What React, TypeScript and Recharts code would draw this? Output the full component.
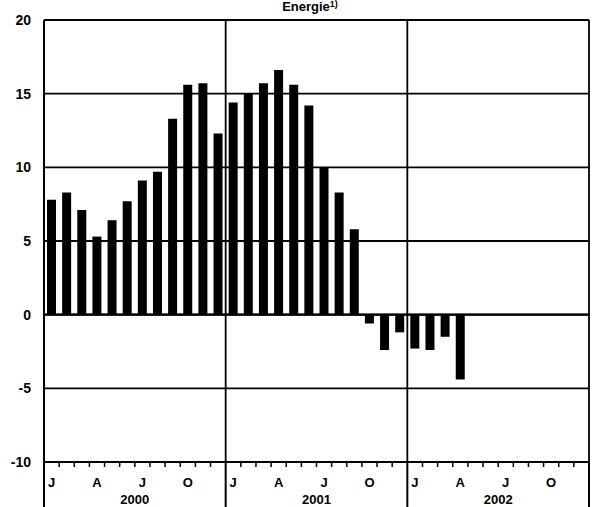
import { BarChart, Bar, XAxis, YAxis, CartesianGrid, ReferenceLine } from 'recharts';

const W = 598;
const H = 507;
const MARGIN = { top: 20, right: 9, bottom: 0, left: 0 };
const Y_W = 44;
const X_H = 45;

const years = ['2000', '2001', '2002'];
const monthLetters = ['J', '', '', 'A', '', '', 'J', '', '', 'O', '', ''];

// year-on-year change, Jan 2000 .. Apr 2002
const values2000 = [7.8, 8.3, 7.1, 5.3, 6.4, 7.7, 9.1, 9.7, 13.3, 15.6, 15.7, 12.3];
const values2001 = [14.4, 15.0, 15.7, 16.6, 15.6, 14.2, 10.0, 8.3, 5.8, -0.6, -2.4, -1.2];
const values2002 = [-2.3, -2.4, -1.5, -4.4];

const yTicks = [-10, -5, 0, 5, 10, 15, 20];

const allValues = [...values2000, ...values2001, ...values2002];
const data = years.flatMap((yr, yi) =>
  monthLetters.map((_, m) => {
    const i = yi * 12 + m;
    return { key: `${yr}-${m + 1}`, value: i < allValues.length ? allValues[i] : null };
  })
);

const BW = (W - MARGIN.left - MARGIN.right - Y_W) / data.length;
const FONT = '"Liberation Sans", Arial, sans-serif';

function MonthTick(props: any) {
  const { x, y, payload } = props;
  const i = payload.index as number;
  const m = i % 12;
  const yr = years[Math.floor(i / 12)];
  const right = x + BW / 2;
  return (
    <g>
      {m === 0 && <line x1={x - BW / 2} x2={x - BW / 2} y1={y} y2={H} stroke="#000" strokeWidth={2} />}
      {i === data.length - 1 ? (
        <line x1={right} x2={right} y1={y} y2={H} stroke="#000" strokeWidth={2} />
      ) : m !== 11 ? (
        <line x1={right} x2={right} y1={y} y2={y + 5} stroke="#000" strokeWidth={1.5} />
      ) : null}
      {monthLetters[m] && (
        <text x={x} y={y + 25} textAnchor="middle" fontFamily={FONT} fontWeight="bold" fontSize={13} fill="#000">
          {monthLetters[m]}
        </text>
      )}
      {m === 5 && (
        <text x={right} y={y + 42} textAnchor="middle" fontFamily={FONT} fontWeight="bold" fontSize={13} fill="#000">
          {yr}
        </text>
      )}
    </g>
  );
}

export default function App() {
  return (
    <div style={{ position: 'absolute', left: 0, top: 0, width: W, height: H, background: '#fff' }}>
      <BarChart width={W} height={H} data={data} margin={MARGIN} barSize={9}>
        <CartesianGrid
          stroke="#000"
          strokeWidth={1.8}
          horizontal
          verticalCoordinatesGenerator={({ offset }: any) =>
            [0, 1, 2, 3].map((k) => offset.left + (offset.width * k) / 3)
          }
        />
        <XAxis
          dataKey="key"
          interval={0}
          height={X_H}
          tickSize={0}
          tickMargin={0}
          tickLine={false}
          axisLine={{ stroke: '#000', strokeWidth: 2 }}
          tick={<MonthTick />}
        />
        <YAxis
          width={Y_W}
          domain={[-10, 20]}
          ticks={yTicks}
          tickSize={0}
          tickMargin={13}
          tickLine={false}
          axisLine={{ stroke: '#000', strokeWidth: 2 }}
          tick={{ fill: '#000', fontFamily: FONT, fontWeight: 'bold', fontSize: 14 }}
        />
        <ReferenceLine y={0} stroke="#000" strokeWidth={2.2} />
        <Bar dataKey="value" fill="#000" isAnimationActive={false} />
      </BarChart>
      <svg width={W} height={20} style={{ position: 'absolute', left: 0, top: 0, pointerEvents: 'none' }}>
        <text x={310} y={11} textAnchor="middle" fontFamily={FONT} fontWeight="bold" fontSize={13} fill="#000">
          Energie
          <tspan fontSize={9} dy={-4}>1)</tspan>
        </text>
      </svg>
    </div>
  );
}
